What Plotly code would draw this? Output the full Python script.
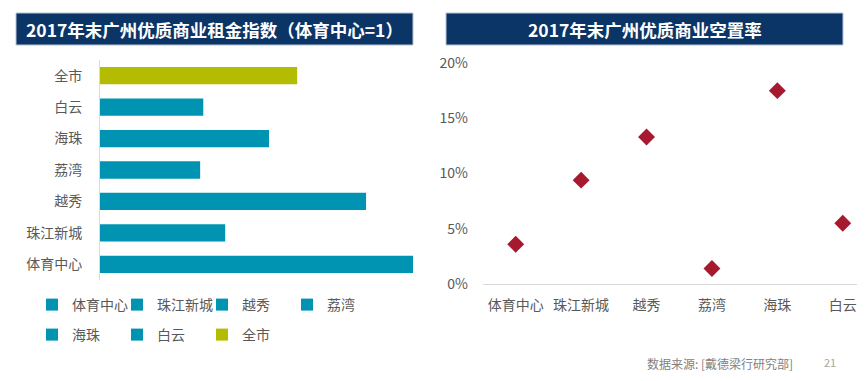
import plotly.graph_objects as go

# ---- data ----
rent_districts = ["体育中心", "珠江新城", "越秀", "荔湾", "海珠", "白云", "全市"]
rent_index = [1.00, 0.40, 0.85, 0.32, 0.54, 0.33, 0.63]
rent_colors = ["#0093B2"] * 6 + ["#B3BC00"]

vac_districts = ["体育中心", "珠江新城", "越秀", "荔湾", "海珠", "白云"]
vac_rate = [0.036, 0.094, 0.133, 0.014, 0.175, 0.055]

title_left = "2017年末广州优质商业租金指数（体育中心=1）"
title_right = "2017年末广州优质商业空置率"
source_text = "数据来源: [戴德梁行研究部]"
page_no = "21"

# page body has an 8px default margin; size the figure to the remaining area
OFF = 8
W, H = 865 - OFF, 381 - OFF
FONT = "Noto Sans CJK SC"
GRAY = "#595959"

def px(x):
    return (x - OFF) / W

def py(y):
    return 1 - (y - OFF) / H

fig = go.Figure()

for i, (d, v, c) in enumerate(zip(rent_districts, rent_index, rent_colors)):
    fig.add_trace(go.Bar(
        x=[v], y=[d], orientation="h", name=d,
        marker=dict(color=c, line=dict(width=0)),
        width=0.55, xaxis="x", yaxis="y",
        legend="legend" if i < 4 else "legend2",
        hoverinfo="x+y",
    ))

fig.add_trace(go.Scatter(
    x=vac_districts, y=vac_rate, mode="markers", showlegend=False,
    marker=dict(symbol="diamond", size=13, color="#A6192E"),
    xaxis="x2", yaxis="y2",
))

fig.update_layout(
    width=W, height=H,
    margin=dict(l=0, r=0, t=0, b=0, autoexpand=False),
    paper_bgcolor="white", plot_bgcolor="white",
    font=dict(family=FONT, size=14, color=GRAY),
    barmode="overlay",
    xaxis=dict(domain=[px(100), px(413)], range=[0, 1], visible=False, fixedrange=True),
    yaxis=dict(domain=[py(280), py(60)], type="category",
               categoryorder="array", categoryarray=rent_districts,
               range=[-0.5, 6.5],
               showline=True, linecolor="#D9D9D9", linewidth=1,
               ticks="", ticklabelstandoff=14, showgrid=False,
               tickfont=dict(size=14, color=GRAY)),
    xaxis2=dict(domain=[px(483), 1.0], range=[-0.5, 5.34], type="category",
                showline=False, ticks="", showgrid=False, zeroline=False,
                ticklabelstandoff=15,
                tickfont=dict(size=14, color=GRAY)),
    yaxis2=dict(domain=[py(284), py(63)], range=[0, 0.2], anchor="x2",
                tickvals=[0, 0.05, 0.10, 0.15, 0.20], tickformat=".0%",
                showgrid=False, zeroline=True, zerolinecolor="#D9D9D9", zerolinewidth=1,
                showline=False, ticks="", ticklabelstandoff=14,
                tickfont=dict(size=14, color=GRAY)),
    legend=dict(orientation="h", x=px(32), y=py(289), xanchor="left", yanchor="top",
                entrywidth=40, entrywidthmode="pixels", font=dict(size=14, color=GRAY),
                bgcolor="rgba(0,0,0,0)", traceorder="normal"),
    legend2=dict(orientation="h", x=px(32), y=py(319), xanchor="left", yanchor="top",
                 entrywidth=40, entrywidthmode="pixels", font=dict(size=14, color=GRAY),
                 bgcolor="rgba(0,0,0,0)", traceorder="normal"),
    showlegend=True,
)

# title boxes
for x0, x1 in [(16, 413), (446, 843)]:
    fig.add_shape(type="rect", xref="paper", yref="paper",
                  x0=px(x0), x1=px(x1), y0=py(45), y1=py(13),
                  fillcolor="#0C3567", line=dict(color="#B8C4D6", width=1), layer="below")

fig.add_annotation(text=f"<b>{title_left}</b>", xref="paper", yref="paper",
                   x=px(214.5), y=py(29), showarrow=False, xanchor="center", yanchor="middle",
                   font=dict(size=17.5, color="white", family=FONT))
fig.add_annotation(text=f"<b>{title_right}</b>", xref="paper", yref="paper",
                   x=px(644.5), y=py(29), showarrow=False, xanchor="center", yanchor="middle",
                   font=dict(size=17.5, color="white", family=FONT))

fig.add_annotation(text=source_text, xref="paper", yref="paper",
                   x=px(645), y=py(363), showarrow=False, xanchor="left", yanchor="middle",
                   font=dict(size=12, color="#7F7F7F", family=FONT))
fig.add_annotation(text=page_no, xref="paper", yref="paper",
                   x=px(830), y=py(362), showarrow=False, xanchor="center", yanchor="middle",
                   font=dict(size=11, color="#A6A6A6", family=FONT))

fig.write_html("out.html")
